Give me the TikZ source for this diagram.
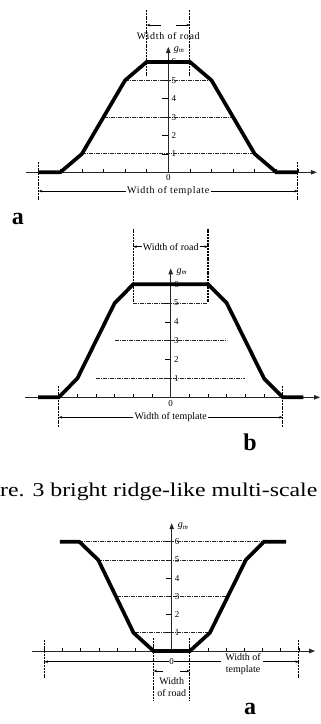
\documentclass[tikz,border=0pt]{standalone}
\usepackage{fontspec}
\setmainfont{Liberation Serif}
\usetikzlibrary{arrows.meta}
\tikzset{
  thickline/.style={line width=3.7pt},
  axisline/.style={line width=0.85pt, draw=black!85, -{Triangle[length=6pt,width=4.5pt]}},
  levelline/.style={line width=0.85pt, draw=black!85, dash pattern=on 4pt off 1pt on 1pt off 1pt},
  vdash/.style={line width=1.1pt, dash pattern=on 2pt off 0.8pt},
  dimline/.style={line width=0.55pt, -{Stealth[length=3.5pt,width=2.6pt]}},
  tickmark/.style={line width=0.75pt},
  num/.style={font=\fontsize{9}{10}\selectfont, inner sep=0.5pt},
  lbl/.style={font=\fontsize{10}{12}\selectfont, inner sep=1pt},
  lbls/.style={font=\fontsize{10}{11}\selectfont\addfontfeature{LetterSpace=7}, inner sep=1pt},
  panel/.style={font=\fontsize{24}{24}\selectfont\bfseries, inner sep=0pt},
}
\newcommand{\gmlabel}{\textit{g}\textsubscript{\textit{m}}}
\begin{document}
\begin{tikzpicture}[x=1pt,y=-1pt]
\useasboundingbox (0,0) rectangle (321,724);
\clip (0,0) rectangle (321,724);

% ---------------- Panel 1 ----------------
\begin{scope}[shift={(168.3,172.3)}, x=21.6pt, y=18.4pt]
  \foreach \k in {1,...,6} \node[num, anchor=west] (na\k) at (0.12,\k) {\k};
  \node[num, anchor=north] (za) at (0,-0.08) {0};
  \foreach \k in {1,...,6} \draw[tickmark] (-0.3,\k) -- (0,\k);
  \foreach \k in {-6,-5,-4,-3,-2,-1,1,2,3,4,5,6} \draw[tickmark] (\k,0) -- (\k,0.17);
  \draw[axisline] (-6.6,0) -- (6.88,0);
  \draw[axisline] (0,0) -- (0,6.81);
  \draw[levelline] (-4,1) -- (4,1);
  \draw[levelline] (-3,3) -- (3,3);
  \draw[levelline] (-2,5) -- (2,5);
  \draw[thickline] (-6,0) -- (-5,0) -- (-4,1) -- (-3,3) -- (-2,5) -- (-1,6) -- (1,6) -- (2,5) -- (3,3) -- (4,1) -- (5,0) -- (6,0);
  \coordinate (rlta) at (-1,8.82); \coordinate (rlba) at (-1,5.23);
  \coordinate (rrta) at (1,8.82);  \coordinate (rrba) at (1,5.23);
  \draw[vdash] (rlta) -- (rlba);
  \draw[vdash] (rrta) -- (rrba);
  \coordinate (ala) at (-0.35,8); \coordinate (aLa) at (-1,8);
  \coordinate (ara) at (0.36,8);  \coordinate (aRa) at (1,8);
  \draw[dimline] (ala) -- (aLa);
  \draw[dimline] (ara) -- (aRa);
  \node[lbls] (roada) at (0,7.41) {Width of road};
  \node[lbl, anchor=west] (gma) at (0.2,6.64) {\gmlabel};
  \coordinate (tlta) at (-6,0.56); \coordinate (tlba) at (-6,-1.5);
  \coordinate (trta) at (6,0.56);  \coordinate (trba) at (6,-1.5);
  \draw[vdash] (tlta) -- (tlba);
  \draw[vdash] (trta) -- (trba);
  \node[lbls, fill=white] (tmpa) at (0,-1.02) {Width of template};
  \draw[dimline] (tmpa.west) -- (tmpa.west -| tlta);
  \draw[dimline] (tmpa.east) -- (tmpa.east -| trta);
\end{scope}
\node[panel] (pa) at (18,219) {a};

% ---------------- Panel 2 ----------------
\begin{scope}[shift={(170.7,397.3)}, x=18.67pt, y=18.85pt]
  \foreach \k in {1,...,6} \node[num, anchor=west] (nb\k) at (0.14,\k) {\k};
  \node[num, anchor=north] (zb) at (0,-0.12) {0};
  \foreach \k in {1,...,6} \draw[tickmark] (-0.3,\k) -- (0,\k);
  \foreach \k in {-6,-5,-4,-3,-2,-1,1,2,3,4,5,6} \draw[tickmark] (\k,0) -- (\k,0.17);
  \draw[axisline] (-7.8,0) -- (8.0,0);
  \draw[axisline] (0,0) -- (0,6.84);
  \draw[levelline] (-4,1) -- (4,1);
  \draw[levelline] (-3,3) -- (3,3);
  \draw[levelline] (-2,5) -- (2,5);
  \draw[thickline] (-7.1,0) -- (-6,0) -- (-5,1) -- (-3,5) -- (-2,6) -- (2,6) -- (3,5) -- (5,1) -- (6,0) -- (7.1,0);
  \coordinate (rltb) at (-2,8.95); \coordinate (rlbb) at (-2,5.07);
  \coordinate (rrtb) at (2,8.95);  \coordinate (rrbb) at (2,5.07);
  \draw[vdash] (rltb) -- (rlbb);
  \draw[vdash] (rrtb) -- (rrbb);
  \node[lbl] (roadb) at (0,7.99) {Width of road};
  \draw[dimline] (roadb.west) -- (roadb.west -| rltb);
  \draw[dimline] (roadb.east) -- (roadb.east -| rrtb);
  \node[lbl, anchor=west] (gmb) at (0.25,6.66) {\gmlabel};
  \coordinate (tltb) at (-6,0.6); \coordinate (tlbb) at (-6,-1.56);
  \coordinate (trtb) at (6,0.6);  \coordinate (trbb) at (6,-1.56);
  \draw[vdash] (tltb) -- (tlbb);
  \draw[vdash] (trtb) -- (trbb);
  \node[lbl, fill=white] (tmpb) at (0,-1.06) {Width of template};
  \draw[dimline] (tmpb.west) -- (tmpb.west -| tltb);
  \draw[dimline] (tmpb.east) -- (tmpb.east -| trtb);
\end{scope}
\node[panel] (pb) at (250,442.7) {b};

% ---------------- Caption fragment ----------------
\node[anchor=base west, inner sep=0pt, font=\fontsize{19.5}{19.5}\selectfont] (cap) at (0,496.7)
  {\scalebox{1.22}[1]{re. 3 bright ridge-like multi-scale}};

% ---------------- Panel 3 ----------------
\begin{scope}[shift={(171.7,651)}, x=18.17pt, y=18.2pt]
  \foreach \k in {1,...,6} \node[num, anchor=west] (nc\k) at (0.14,\k) {\k};
  \foreach \k in {1,...,6} \draw[tickmark] (-0.3,\k) -- (0,\k);
  \foreach \k in {-7,-6,-5,-4,-3,-2,-1,1,2,3,4,5,6,7} \draw[tickmark] (\k,0) -- (\k,0.17);
  \draw[axisline] (-7.7,0) -- (7.89,0);
  \draw[axisline] (0,0) -- (0,7.02);
  \draw[levelline] (-5.08,6) -- (5.08,6);
  \draw[levelline] (-4.04,5) -- (4.08,5);
  \draw[levelline] (-3,3) -- (3,3);
  \draw[levelline] (-2,1) -- (2.1,1);
  \draw[thickline] (-6.15,6) -- (-5.08,6) -- (-4.04,5) -- (-2.1,1) -- (-1,0) -- (1,0) -- (2.1,1) -- (4.08,5) -- (5.08,6) -- (6.3,6);
  \coordinate (tltc) at (-7,0.6); \coordinate (tlbc) at (-7,-1.5);
  \coordinate (trtc) at (7,0.6);  \coordinate (trbc) at (7,-1.5);
  \draw[vdash] (tltc) -- (tlbc);
  \draw[vdash] (trtc) -- (trbc);
  \node[lbl, align=center, fill=white, inner sep=0.5pt] (tmpc) at (3.93,-0.69) {Width of\\template};
  \coordinate (alc) at (2.7,-0.59); \coordinate (arc) at (5.04,-0.59);
  \draw[dimline] (alc) -- (alc -| tltc);
  \draw[dimline] (arc) -- (arc -| trtc);
  \node[num, fill=white, inner sep=0.3pt] (zc) at (0,-0.59) {0};
  \coordinate (rltc) at (-1,0.71); \coordinate (rlbc) at (-1,-2.69);
  \coordinate (rrtc) at (1,0.71);  \coordinate (rrbc) at (1,-2.69);
  \draw[vdash] (rltc) -- (rlbc);
  \draw[vdash] (rrtc) -- (rrbc);
  \coordinate (alr) at (-0.46,-1.1); \coordinate (arr) at (0.46,-1.1);
  \draw[dimline] (alr) -- (alr -| rltc);
  \draw[dimline] (arr) -- (arr -| rrtc);
  \node[lbl, align=center] (roadc) at (0,-1.96) {Width\\of road};
  \node[lbl, anchor=west] (gmc) at (0.28,6.84) {\gmlabel};
\end{scope}
\node[panel] (pc) at (250,709) {a};
\end{tikzpicture}
\end{document}
